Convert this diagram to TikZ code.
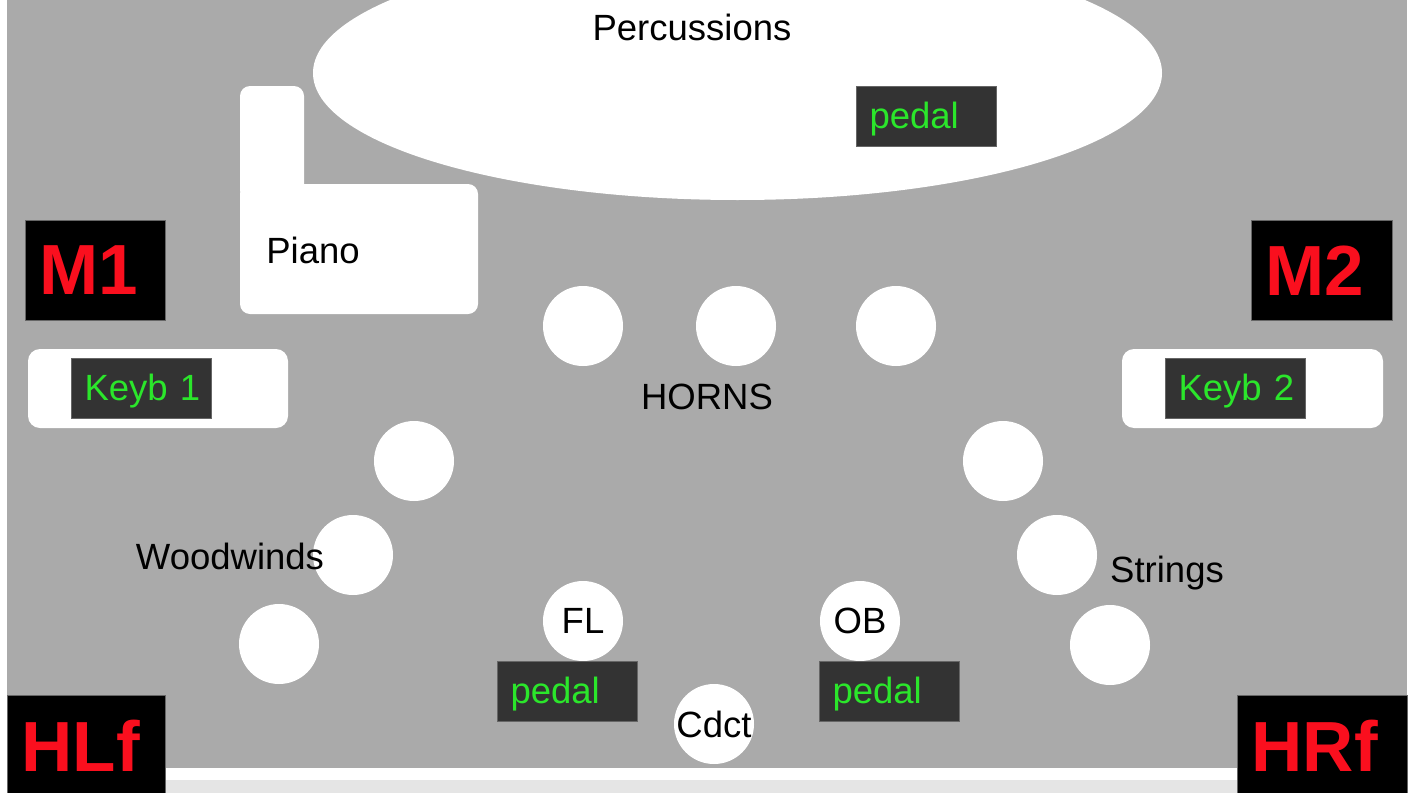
\documentclass[tikz,border=0pt]{standalone}
\usepackage{fontspec}
\setmainfont{Liberation Sans}
\usetikzlibrary{shapes.geometric}
\definecolor{stagegray}{HTML}{AAAAAA}
\definecolor{floorgray}{HTML}{E5E5E5}
\definecolor{darkbox}{HTML}{333333}
\definecolor{padgreen}{HTML}{2BE62B}
\definecolor{spkred}{HTML}{FA0F1E}
\tikzset{
  txt/.style={font=\fontsize{36.5}{40}\selectfont, text=black, inner sep=0pt},
  seat/.style={circle, fill=white, minimum size=80pt, inner sep=0pt, font=\fontsize{36.5}{40}\selectfont},
  ctrlbox/.style={rectangle, fill=darkbox, draw=black!60, line width=1pt, minimum width=140pt, minimum height=60pt,
     text width=114pt, inner xsep=13pt, inner ysep=0pt, text height=32pt, text depth=8pt, align=left, text=padgreen, font=\fontsize{36.5}{40}\selectfont},
  spkbox/.style={rectangle, fill=black, draw=black!60, line width=1pt, minimum height=100pt,
     inner xsep=14pt, align=left, text=spkred, font=\fontsize{71}{80}\selectfont\bfseries},
  whitebar/.style={fill=white, rounded corners=12pt}
}
\begin{document}
\begin{tikzpicture}[x=1pt,y=-1pt]
\useasboundingbox (0,0) rectangle (1412,792);
\clip (0,0) rectangle (1412,792);
\fill[white] (0,0) rectangle (1412,792);
\fill[stagegray] (7,-5) rectangle (1407,768);
\fill[floorgray] (165,780) rectangle (1237,800);
% percussions
\node[ellipse, fill=white, minimum width=849pt, minimum height=254pt, inner sep=0pt] (perc) at (737.5,73) {};
\node[txt] (perctxt) at (692,27) {Percussions};
\node[ctrlbox, anchor=north west] (pedalP) at (856,86) {pedal};
% piano
\fill[white, rounded corners=10pt] (240,86) rectangle (304,200);
\fill[white, rounded corners=10pt] (240,184) rectangle (478,314);
\node[txt] (piano) at (313,250) {Piano};
% speakers
\node[spkbox, anchor=north west, minimum width=140pt, text width=112pt] (M1) at (25,220) {M1};
\node[spkbox, anchor=north west, minimum width=141pt, text width=113pt] (M2) at (1251,220) {M2};
\node[spkbox, anchor=north west, minimum width=158pt, text width=130pt] (HLf) at (7,695) {HLf};
\node[spkbox, anchor=north west, minimum width=170pt, text width=142pt] (HRf) at (1237,695) {HRf};
% keyboards
\fill[whitebar] (28,349) rectangle (288,428);
\fill[whitebar] (1122,349) rectangle (1383,428);
\node[ctrlbox, anchor=north west] (keyb1) at (71,358) {\mbox{Keyb 1}};
\node[ctrlbox, anchor=north west] (keyb2) at (1165,358) {\mbox{Keyb 2}};
% horns
\node[seat] (h1) at (583,326) {};
\node[seat] (h2) at (736,326) {};
\node[seat] (h3) at (896,326) {};
\node[txt] (horns) at (707,397) {HORNS};
% woodwinds
\node[seat] (w1) at (414,461) {};
\node[seat] (w2) at (353,555) {};
\node[seat] (w3) at (279,644) {};
\node[txt] (wood) at (230,556) {Woodwinds};
% strings
\node[seat] (s1) at (1003,461) {};
\node[seat] (s2) at (1057,555) {};
\node[seat] (s3) at (1110,645) {};
\node[txt] (strings) at (1167,573) {Strings};
% soloists
\node[seat] (fl) at (583,621) {FL};
\node[seat] (ob) at (860,621) {OB};
\node[ctrlbox, anchor=north west] (pedalL) at (497,661) {pedal};
\node[ctrlbox, anchor=north west] (pedalR) at (819,661) {pedal};
\node[seat] (cdct) at (714,724) {Cdct};
\end{tikzpicture}
\end{document}
